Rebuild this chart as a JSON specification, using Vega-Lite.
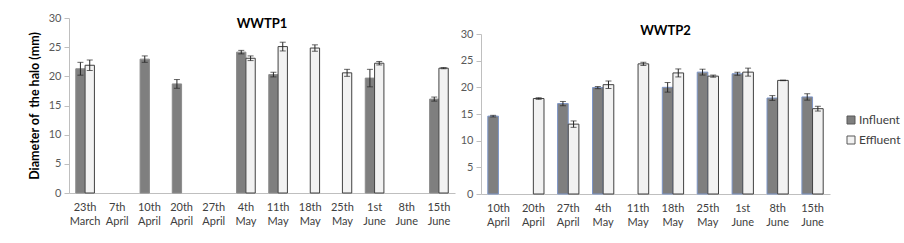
{
  "$schema": "https://vega.github.io/schema/vega-lite/v6.json",
  "background": "white",
  "padding": {"left": 28, "top": 12, "right": 5, "bottom": 5},
  "spacing": 5,
  "config": {
    "font": "Lato",
    "view": {"stroke": null},
    "axis": {"labelFont": "Lato", "titleFont": "Lato", "labelFontSize": 11, "labelColor": "#595959", "domainColor": "#bfbfbf", "tickColor": "#bfbfbf", "grid": false, "labelOverlap": false},
    "axisY": {"values": [0, 5, 10, 15, 20, 25, 30], "tickSize": 5, "labelPadding": 3, "tickCount": 7},
    "legend": {"labelFont": "Lato", "labelFontSize": 12, "labelColor": "#404040"}
  },
  "datasets": {
    "w1": [
      {"date": "23th March", "series": "Influent", "value": 21.3, "lo": 20.2, "hi": 22.4},
      {"date": "23th March", "series": "Effluent", "value": 21.9, "lo": 21.0, "hi": 22.8},
      {"date": "10th April", "series": "Influent", "value": 22.95, "lo": 22.4, "hi": 23.5},
      {"date": "20th April", "series": "Influent", "value": 18.7, "lo": 17.95, "hi": 19.45},
      {"date": "4th May", "series": "Influent", "value": 24.15, "lo": 23.85, "hi": 24.45},
      {"date": "4th May", "series": "Effluent", "value": 23.1, "lo": 22.7, "hi": 23.5},
      {"date": "11th May", "series": "Influent", "value": 20.3, "lo": 19.9, "hi": 20.7},
      {"date": "11th May", "series": "Effluent", "value": 25.1, "lo": 24.35, "hi": 25.85},
      {"date": "18th May", "series": "Effluent", "value": 24.85, "lo": 24.3, "hi": 25.4},
      {"date": "25th May", "series": "Effluent", "value": 20.6, "lo": 20.0, "hi": 21.2},
      {"date": "1st June", "series": "Influent", "value": 19.7, "lo": 18.2, "hi": 21.2},
      {"date": "1st June", "series": "Effluent", "value": 22.25, "lo": 21.95, "hi": 22.55},
      {"date": "15th June", "series": "Influent", "value": 16.1, "lo": 15.75, "hi": 16.45},
      {"date": "15th June", "series": "Effluent", "value": 21.4, "lo": 21.3, "hi": 21.5}
    ],
    "w2": [
      {"date": "10th April", "series": "Influent", "value": 14.6, "lo": 14.45, "hi": 14.75},
      {"date": "20th April", "series": "Effluent", "value": 17.9, "lo": 17.75, "hi": 18.05},
      {"date": "27th April", "series": "Influent", "value": 16.95, "lo": 16.55, "hi": 17.35},
      {"date": "27th April", "series": "Effluent", "value": 13.1, "lo": 12.5, "hi": 13.7},
      {"date": "4th May", "series": "Influent", "value": 19.95, "lo": 19.75, "hi": 20.15},
      {"date": "4th May", "series": "Effluent", "value": 20.5, "lo": 19.8, "hi": 21.2},
      {"date": "11th May", "series": "Effluent", "value": 24.4, "lo": 24.1, "hi": 24.7},
      {"date": "18th May", "series": "Influent", "value": 20.0, "lo": 19.1, "hi": 20.9},
      {"date": "18th May", "series": "Effluent", "value": 22.7, "lo": 21.95, "hi": 23.45},
      {"date": "25th May", "series": "Influent", "value": 22.85, "lo": 22.3, "hi": 23.4},
      {"date": "25th May", "series": "Effluent", "value": 22.1, "lo": 21.9, "hi": 22.3},
      {"date": "1st June", "series": "Influent", "value": 22.55, "lo": 22.25, "hi": 22.85},
      {"date": "1st June", "series": "Effluent", "value": 22.85, "lo": 22.1, "hi": 23.6},
      {"date": "8th June", "series": "Influent", "value": 18.0, "lo": 17.55, "hi": 18.45},
      {"date": "8th June", "series": "Effluent", "value": 21.3, "lo": 21.25, "hi": 21.35},
      {"date": "15th June", "series": "Influent", "value": 18.2, "lo": 17.6, "hi": 18.8},
      {"date": "15th June", "series": "Effluent", "value": 16.0, "lo": 15.55, "hi": 16.45}
    ]
  },
  "resolve": {"scale": {"x": "independent", "y": "independent", "xOffset": "independent", "stroke": "independent"}},
  "hconcat": [
    {
      "width": 386,
      "height": 175,
      "data": {"name": "w1"},
      "title": {"text": "WWTP1", "font": "Lato", "fontSize": 13, "fontWeight": "bold", "color": "#000000", "anchor": "middle", "frame": "group", "dy": 23},
      "encoding": {
        "x": {"field": "date", "type": "nominal", "scale": {"domain": ["23th March", "7th April", "10th April", "20th April", "27th April", "4th May", "11th May", "18th May", "25th May", "1st June", "8th June", "15th June"], "paddingInner": 0.42, "paddingOuter": 0.21},
          "axis": {"title": null, "labelAngle": 0, "ticks": false, "labelPadding": 8, "labelColor": "#404040", "labelLineHeight": 14, "labelExpr": "split(datum.label, ' ')"}},
        "xOffset": {"field": "series", "type": "nominal", "scale": {"domain": ["Influent", "Effluent"]}}
      },
      "layer": [
        {
          "mark": {"type": "bar", "strokeWidth": 1},
          "encoding": {
            "y": {"field": "value", "type": "quantitative", "scale": {"domain": [0, 30]},
              "axis": {"title": "Diameter of \u00a0the halo (mm)", "titleFontSize": 12.5, "titleFontWeight": "bold", "titleColor": "#000000", "titlePadding": 7}},
            "fill": {"field": "series", "type": "nominal", "scale": {"domain": ["Influent", "Effluent"], "range": ["#7f7f7f", "#f2f2f2"]}, "title": null,
              "legend": {"orient": "none", "legendX": 776, "legendY": 96, "symbolType": "square", "symbolSize": 64, "symbolStrokeColor": "#595959", "symbolStrokeWidth": 1, "rowPadding": 8, "labelOffset": 2}},
            "stroke": {"field": "series", "type": "nominal", "scale": {"domain": ["Influent", "Effluent"], "range": ["#8c8c8c", "#404040"]}, "legend": null}
          }
        },
        {
          "mark": {"type": "rule", "color": "#262626", "strokeWidth": 1},
          "encoding": {"y": {"field": "lo", "type": "quantitative"}, "y2": {"field": "hi"}}
        },
        {
          "mark": {"type": "tick", "color": "#262626", "thickness": 1, "size": 6},
          "encoding": {"y": {"field": "lo", "type": "quantitative"}}
        },
        {
          "mark": {"type": "tick", "color": "#262626", "thickness": 1, "size": 6},
          "encoding": {"y": {"field": "hi", "type": "quantitative"}}
        }
      ]
    },
    {
      "width": 349,
      "height": 176,
      "data": {"name": "w2"},
      "title": {"text": "WWTP2", "font": "Lato", "fontSize": 13, "fontWeight": "bold", "color": "#000000", "anchor": "middle", "frame": "group", "dx": 10, "dy": 24},
      "encoding": {
        "x": {"field": "date", "type": "nominal", "scale": {"domain": ["10th April", "20th April", "27th April", "4th May", "11th May", "18th May", "25th May", "1st June", "8th June", "15th June"], "paddingInner": 0.39, "paddingOuter": 0.195},
          "axis": {"title": null, "labelAngle": 0, "ticks": false, "labelPadding": 8, "labelColor": "#404040", "labelLineHeight": 14, "labelExpr": "split(datum.label, ' ')"}},
        "xOffset": {"field": "series", "type": "nominal", "scale": {"domain": ["Influent", "Effluent"]}}
      },
      "layer": [
        {
          "mark": {"type": "bar", "strokeWidth": 1},
          "encoding": {
            "y": {"field": "value", "type": "quantitative", "scale": {"domain": [0, 30], "range": [176, 16]},
              "axis": {"title": null}},
            "fill": {"field": "series", "type": "nominal", "scale": {"domain": ["Influent", "Effluent"], "range": ["#7f7f7f", "#f2f2f2"]}, "title": null},
            "stroke": {"field": "series", "type": "nominal", "scale": {"domain": ["Influent", "Effluent"], "range": ["#7d96c8", "#404040"]}, "legend": null}
          }
        },
        {
          "mark": {"type": "rule", "color": "#262626", "strokeWidth": 1},
          "encoding": {"y": {"field": "lo", "type": "quantitative"}, "y2": {"field": "hi"}}
        },
        {
          "mark": {"type": "tick", "color": "#262626", "thickness": 1, "size": 6},
          "encoding": {"y": {"field": "lo", "type": "quantitative"}}
        },
        {
          "mark": {"type": "tick", "color": "#262626", "thickness": 1, "size": 6},
          "encoding": {"y": {"field": "hi", "type": "quantitative"}}
        }
      ]
    }
  ]
}
